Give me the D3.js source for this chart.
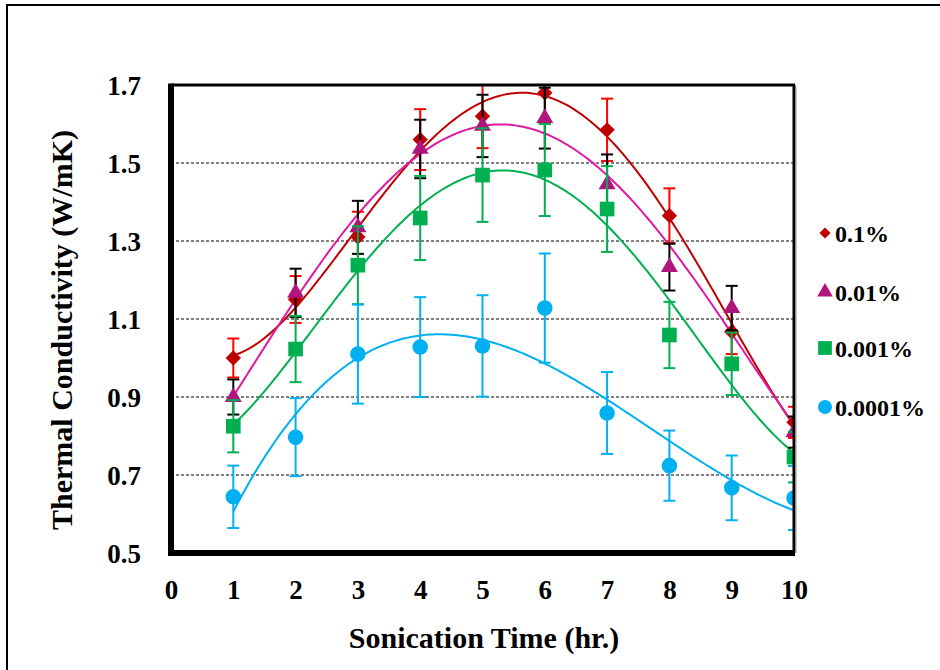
<!DOCTYPE html>
<html><head><meta charset="utf-8">
<script src="https://cdn.jsdelivr.net/npm/d3@7"></script>
<style>
html,body{margin:0;padding:0;background:#fff;}
svg{display:block;}
</style></head>
<body>
<svg id="chart" width="940" height="670"></svg>
<script>
// ---- data ----
const categories = [1,2,3,4,5,6,7,8,9,10];
const seriesNames = ["0.1%","0.01%","0.001%","0.0001%"];
const vals_01    = [1.00,1.15,1.31,1.56,1.62,1.68,1.585,1.365,1.067,0.835];
const err_01     = [0.05,0.06,0.065,0.078,0.082,0.08,0.08,0.07,0.057,0.04];
const vals_001   = [0.90,1.167,1.335,1.536,1.595,1.615,1.445,1.233,1.128,0.81];
const err_001    = [0.045,0.062,0.068,0.075,0.08,0.078,0.077,0.06,0.057,0.04];
const vals_0001  = [0.825,1.023,1.238,1.359,1.469,1.482,1.382,1.059,0.985,0.746];
const err_0001   = [0.067,0.085,0.1,0.108,0.12,0.118,0.11,0.085,0.08,0.065];
const vals_00001 = [0.644,0.797,1.01,1.028,1.031,1.128,0.859,0.724,0.667,0.641];
const err_00001  = [0.08,0.1,0.127,0.128,0.13,0.14,0.105,0.09,0.083,0.082];
const xTicks = [0,1,2,3,4,5,6,7,8,9,10];
const yTicks = [0.5,0.7,0.9,1.1,1.3,1.5,1.7];
const trendOrders = [4,4,4,3];   // polynomial trendline orders

const FONT = "'Liberation Serif','Times New Roman',Times,serif";

// ---- styles ----
const styles = [
  {marker:"diamond", fill:"#C00000", line:"#C00000", err:"#FF0000", size:150, legSize:80},
  {marker:"triangle", fill:"#B0157E", line:"#E01AA0", err:"#000000", size:125, legSize:105},
  {marker:"square", fill:"#00B050", line:"#00B050", err:"#00B050", size:215, legSize:190},
  {marker:"circle", fill:"#00B0F0", line:"#00B0F0", err:"#00B0F0", size:190, legSize:155}
];
const symMap = {diamond:d3.symbolDiamond2 || d3.symbolDiamond, triangle:d3.symbolTriangle, square:d3.symbolSquare, circle:d3.symbolCircle};
const series = [vals_01, vals_001, vals_0001, vals_00001].map((v,i)=>({
  name:seriesNames[i], values:v, errs:[err_01,err_001,err_0001,err_00001][i], style:styles[i], order:trendOrders[i]
}));

const svg = d3.select("#chart");
const L=171, R=794, T=85, B=553;
const x = d3.scaleLinear().domain([0,10]).range([L,R]);
const y = d3.scaleLinear().domain([0.5,1.7]).range([B,T]);

function styleText(sel, size){
  sel.style("font-family",FONT).style("font-weight","bold").style("font-size",size+"px").attr("fill","#000");
}

// outer frame
svg.append("rect").attr("x",7).attr("y",5).attr("width",960).attr("height",700)
  .attr("fill","none").attr("stroke","#000").attr("stroke-width",2);

// gridlines
svg.append("g").selectAll("line").data(yTicks.filter(v=>v>0.5 && v<1.7)).join("line")
  .attr("x1",L).attr("x2",R).attr("y1",d=>y(d)).attr("y2",d=>y(d))
  .attr("stroke","#000").attr("stroke-width",1).attr("stroke-dasharray","3,2");

// axes (labels only)
const yAxis = d3.axisLeft(y).tickValues(yTicks).tickSize(0).tickPadding(30).tickFormat(d3.format(".1f"));
const gy = svg.append("g").attr("transform",`translate(${L},0)`).call(yAxis);
gy.select(".domain").remove();
gy.selectAll("text").attr("dy","0.35em").call(styleText,27);

const xAxis = d3.axisBottom(x).tickValues(xTicks).tickSize(0).tickPadding(0).tickFormat(d3.format("d"));
const gx = svg.append("g").attr("transform",`translate(0,${B})`).call(xAxis);
gx.select(".domain").remove();
gx.selectAll("text").attr("y",46).attr("dy",0).call(styleText,27);

// titles
svg.append("text").attr("x",484).attr("y",648).attr("text-anchor","middle")
  .text("Sonication Time (hr.)").call(styleText,30);
svg.append("text").attr("transform",`translate(72,330) rotate(-90)`).attr("text-anchor","middle")
  .text("Thermal Conductivity (W/mK)").call(styleText,30);

// clip
svg.append("clipPath").attr("id","clip").append("rect").attr("x",L).attr("y",T).attr("width",R-L).attr("height",B-T);
const plot = svg.append("g").attr("clip-path","url(#clip)");

// polynomial least squares (trendline)
function polyfit(xs, ys, order){
  const n=order+1;
  const A=[...Array(n)].map(()=>Array(n+1).fill(0));
  for(let r=0;r<n;r++){
    for(let c=0;c<n;c++) A[r][c]=d3.sum(xs,xv=>Math.pow(xv,r+c));
    A[r][n]=d3.sum(xs,(xv,i)=>ys[i]*Math.pow(xv,r));
  }
  for(let i=0;i<n;i++){
    let p=i; for(let k=i+1;k<n;k++) if(Math.abs(A[k][i])>Math.abs(A[p][i])) p=k;
    [A[i],A[p]]=[A[p],A[i]];
    for(let k=i+1;k<n;k++){const f=A[k][i]/A[i][i]; for(let j=i;j<=n;j++) A[k][j]-=f*A[i][j];}
  }
  const co=Array(n).fill(0);
  for(let i=n-1;i>=0;i--){let s=A[i][n]; for(let j=i+1;j<n;j++) s-=A[i][j]*co[j]; co[i]=s/A[i][i];}
  return xv=>co.reduce((s,c,i)=>s+c*Math.pow(xv,i),0);
}

// trendlines
const xs = d3.range(1,10.0001,0.05);
series.forEach(s=>{
  const f = polyfit(categories, s.values, s.order);
  plot.append("path").datum(xs).attr("fill","none").attr("stroke",s.style.line).attr("stroke-width",2)
    .attr("d", d3.line().x(d=>x(d)).y(d=>y(f(d))));
});

// error bars + markers
series.forEach(s=>{
  const g = plot.append("g");
  const cap=6;
  s.values.forEach((v,i)=>{
    const cx=x(categories[i]), y1=y(v+s.errs[i]), y0=y(v-s.errs[i]);
    g.append("line").attr("x1",cx).attr("x2",cx).attr("y1",y1).attr("y2",y0).attr("stroke",s.style.err).attr("stroke-width",2);
    g.append("line").attr("x1",cx-cap).attr("x2",cx+cap).attr("y1",y1).attr("y2",y1).attr("stroke",s.style.err).attr("stroke-width",2);
    g.append("line").attr("x1",cx-cap).attr("x2",cx+cap).attr("y1",y0).attr("y2",y0).attr("stroke",s.style.err).attr("stroke-width",2);
  });
  const sym = d3.symbol().type(symMap[s.style.marker]).size(s.style.size);
  g.selectAll("path.m").data(s.values).join("path").attr("class","m")
    .attr("transform",(d,i)=>`translate(${x(categories[i])},${y(d)})`)
    .attr("d",sym()).attr("fill",s.style.fill);
});

// plot border
svg.append("line").attr("x1",L).attr("x2",R+1).attr("y1",T).attr("y2",T).attr("stroke","#000").attr("stroke-width",3);
svg.append("line").attr("x1",R).attr("x2",R).attr("y1",T).attr("y2",B).attr("stroke","#000").attr("stroke-width",3);
svg.append("line").attr("x1",R+2).attr("x2",R+2).attr("y1",T+2).attr("y2",B).attr("stroke","#999").attr("stroke-width",1);
svg.append("line").attr("x1",L).attr("x2",L).attr("y1",T-1.5).attr("y2",B+3).attr("stroke","#000").attr("stroke-width",6);
svg.append("line").attr("x1",L-3).attr("x2",R+1).attr("y1",B).attr("y2",B).attr("stroke","#000").attr("stroke-width",6);

// legend
const legY = [233,292,348,407];
const leg = svg.append("g");
series.forEach((s,i)=>{
  leg.append("path").attr("transform",`translate(825,${legY[i]})`)
    .attr("d",d3.symbol().type(symMap[s.style.marker]).size(s.style.legSize)()).attr("fill",s.style.fill);
  leg.append("text").attr("x",835).attr("y",legY[i]+9).text(s.name).call(styleText,24);
});
</script>
</body></html>
